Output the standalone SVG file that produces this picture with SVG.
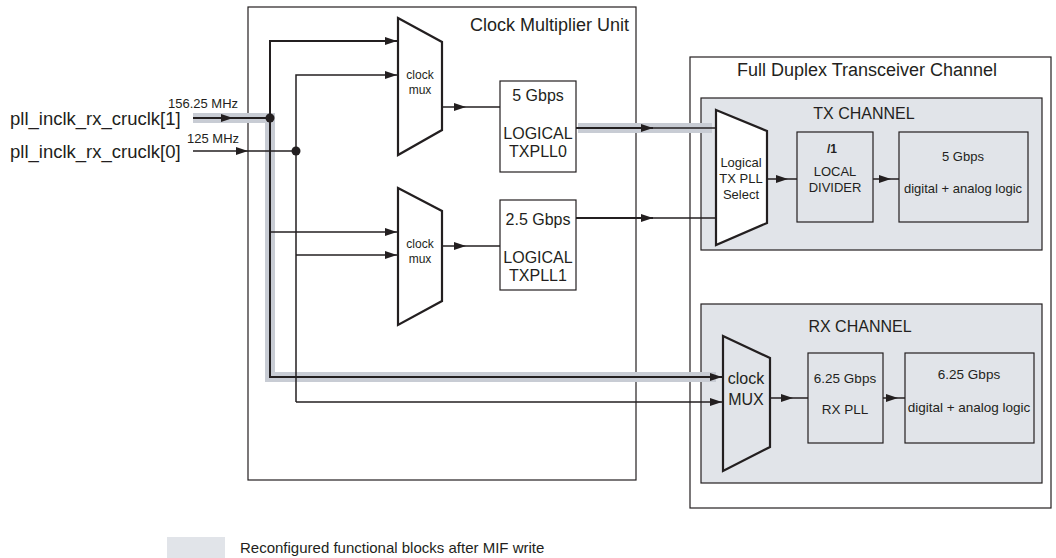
<svg xmlns="http://www.w3.org/2000/svg" width="1056" height="558" viewBox="0 0 1056 558">
<defs>
<marker id="ah" viewBox="0 0 12 8" refX="12" refY="4" markerWidth="12" markerHeight="8" markerUnits="userSpaceOnUse" orient="auto">
<path d="M0,0 L12,4 L0,8 z" fill="#231f20"/>
</marker>
</defs>
<style>
text{font-family:"Liberation Sans",Arial,sans-serif;fill:#231f20}
.box{fill:#fff;stroke:#231f20;stroke-width:1.2}
.gbox{fill:#e1e4e9;stroke:#231f20;stroke-width:1.2}
.trap{fill:#fff;stroke:#231f20;stroke-width:2.2;stroke-linejoin:miter}
.gtrap{fill:#e1e4e9;stroke:#231f20;stroke-width:2.2}
.ln{fill:none;stroke:#231f20;stroke-width:1.5}
.lnb{fill:none;stroke:#231f20;stroke-width:2}
.band{fill:none;stroke:#c8ccd4;stroke-width:10}
.arr{marker-end:url(#ah)}
.c{text-anchor:middle}
</style>
<g id="cmu">
<rect class="box" x="248" y="7" width="388" height="473"/>
<text x="629" y="31" font-size="18" text-anchor="end">Clock Multiplier Unit</text>
</g>
<g id="fdtc">
<rect class="box" x="690" y="57" width="361" height="451"/>
<text x="867" y="76" font-size="18" class="c">Full Duplex Transceiver Channel</text>
</g>
<g id="tx-channel">
<rect class="gbox" x="701" y="98" width="341" height="152"/>
<text x="864" y="119" font-size="16" class="c">TX CHANNEL</text>
</g>
<g id="rx-channel">
<rect class="gbox" x="701" y="304" width="341" height="179"/>
<text x="860" y="332" font-size="16" class="c">RX CHANNEL</text>
</g>
<g id="band">
<path class="band" d="M193,118 H270 V377 H716"/>
<path class="band" d="M578,128 H712"/>
</g>
<g id="mux0">
<path class="trap" d="M398,18 L442,42 L442,130 L398,155 Z"/>
<text x="420" y="79" font-size="12" class="c">clock</text>
<text x="420" y="94" font-size="12" class="c">mux</text>
</g>
<g id="mux1">
<path class="trap" d="M398,188 L442,211 L442,301 L398,325 Z"/>
<text x="420" y="248" font-size="12" class="c">clock</text>
<text x="420" y="263" font-size="12" class="c">mux</text>
</g>
<g id="txpll0">
<rect class="box" x="500" y="81" width="76" height="91"/>
<text x="538" y="101" font-size="16" class="c">5 Gbps</text>
<text x="538" y="139" font-size="16" class="c">LOGICAL</text>
<text x="538" y="157" font-size="16" class="c">TXPLL0</text>
</g>
<g id="txpll1">
<rect class="box" x="500" y="200" width="76" height="90"/>
<text x="538" y="225" font-size="16" class="c">2.5 Gbps</text>
<text x="538" y="263" font-size="16" class="c">LOGICAL</text>
<text x="538" y="281" font-size="16" class="c">TXPLL1</text>
</g>
<g id="txsel">
<path class="trap" d="M716,110 L767,131 L767,223 L716,245 Z"/>
<text x="741" y="167" font-size="13" class="c">Logical</text>
<text x="741" y="183" font-size="13" class="c">TX PLL</text>
<text x="741" y="199" font-size="13" class="c">Select</text>
</g>
<g id="localdiv">
<rect class="gbox" x="797" y="132" width="76" height="90"/>
<text x="832" y="153" font-size="12" font-weight="bold" class="c">/1</text>
<text x="835" y="176" font-size="13" class="c">LOCAL</text>
<text x="835" y="192" font-size="13" class="c">DIVIDER</text>
</g>
<g id="txlogic">
<rect class="gbox" x="899" y="132" width="129" height="90"/>
<text x="963" y="161" font-size="13" class="c">5 Gbps</text>
<text x="963" y="193" font-size="13" class="c">digital + analog logic</text>
</g>
<g id="rxmux">
<path class="gtrap" d="M723,336 L770,358 L770,447 L723,471 Z"/>
<text x="746" y="384" font-size="16" class="c">clock</text>
<text x="746" y="405" font-size="16" class="c">MUX</text>
</g>
<g id="rxpll">
<rect class="gbox" x="808" y="353" width="75" height="90"/>
<text x="845" y="383" font-size="13.5" class="c">6.25 Gbps</text>
<text x="845" y="414" font-size="13.5" class="c">RX PLL</text>
</g>
<g id="rxlogic">
<rect class="gbox" x="905" y="353" width="129" height="90"/>
<text x="969" y="379" font-size="13.5" class="c">6.25 Gbps</text>
<text x="969" y="412" font-size="13.5" class="c">digital + analog logic</text>
</g>
<g id="inputs">
<text x="10" y="125" font-size="18.5">pll_inclk_rx_cruclk[1]</text>
<text x="10" y="158" font-size="18.5">pll_inclk_rx_cruclk[0]</text>
<text x="168" y="108" font-size="13">156.25 MHz</text>
<text x="187" y="143" font-size="13">125 MHz</text>
</g>
<g id="connectors">
<path class="lnb arr" d="M193,118 H233"/>
<path class="lnb" d="M233,118 H270"/>
<path class="ln arr" d="M193,151 H248"/>
<path class="ln" d="M248,151 H296"/>
<circle cx="270" cy="118" r="4.5" fill="#231f20"/>
<circle cx="296" cy="151" r="4.5" fill="#231f20"/>
<path class="lnb arr" d="M270,377 V41 H397"/>
<path class="lnb" d="M270,118 V377 H600"/>
<path class="lnb arr" d="M600,377 H722"/>
<path class="ln arr" d="M296,402 V75 H397"/>
<path class="ln arr" d="M296,402 H722"/>
<path class="ln arr" d="M270,232 H397"/>
<path class="ln arr" d="M296,255 H397"/>
<path class="ln arr" d="M443,107 H466"/>
<path class="ln" d="M466,107 H500"/>
<path class="ln arr" d="M443,246 H466"/>
<path class="ln" d="M466,246 H500"/>
<path class="lnb arr" d="M576,128 H653"/>
<path class="ln" d="M653,128 H716"/>
<path class="lnb arr" d="M576,218 H653"/>
<path class="ln" d="M653,218 H716"/>
<path class="ln arr" d="M768,179 H788"/>
<path class="ln" d="M788,179 H797"/>
<path class="ln arr" d="M873,179 H891"/>
<path class="ln" d="M891,179 H899"/>
<path class="ln arr" d="M771,398 H793"/>
<path class="ln" d="M793,398 H808"/>
<path class="ln arr" d="M883,398 H898"/>
<path class="ln" d="M898,398 H905"/>
</g>
<g id="legend">
<rect x="167" y="537" width="58" height="22" fill="#e1e4e9"/>
<text x="240" y="553" font-size="15">Reconfigured functional blocks after MIF write</text>
</g>
</svg>
